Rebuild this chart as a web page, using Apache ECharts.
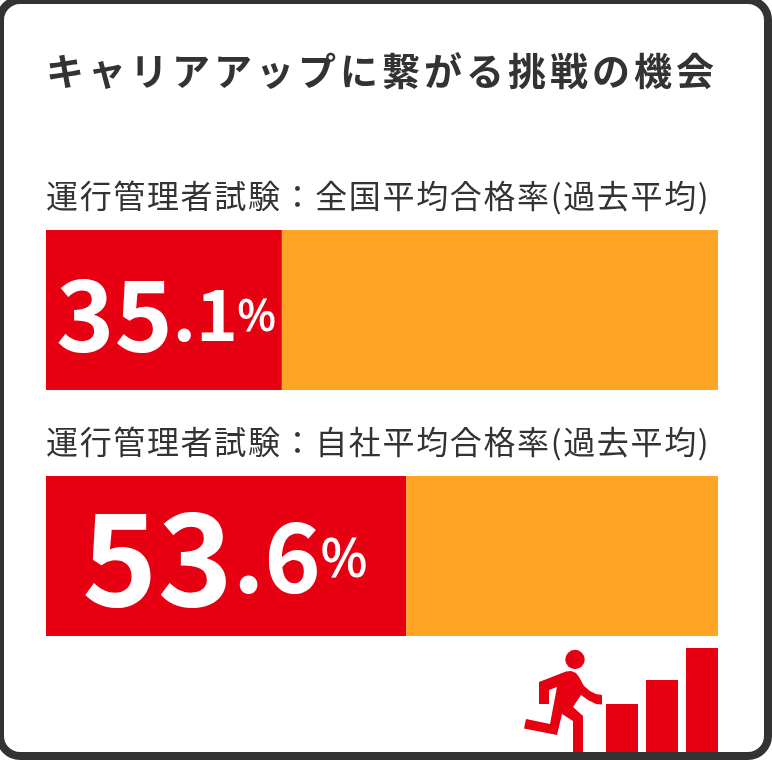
<!DOCTYPE html>
<html><head><meta charset="utf-8">
<style>html,body{margin:0;padding:0;background:#fff}#c{width:772px;height:760px}</style>
<script src="https://cdn.jsdelivr.net/npm/echarts@6/dist/echarts.min.js"></script>
</head><body><div id="c"></div>
<script>
const titleText = 'キャリアアップに繋がる挑戦の機会';
const categories = ['運行管理者試験：全国平均合格率(過去平均)', '運行管理者試験：自社平均合格率(過去平均)'];
const rates = [35.1, 53.6];
const stairCategories = ['1', '2', '3'];
const stairValues = [48, 72, 104];

const RED = '#e60012', ORANGE = '#ffa425', DARK = '#333333';
const FONT = '"Noto Sans CJK JP","Noto Sans",sans-serif';

// letter spacing for whole strings on the canvas
const spacing = {};
spacing[titleText] = '4px';
categories.forEach(c => spacing[c] = '1.65px');
const proto = CanvasRenderingContext2D.prototype;
const origFill = proto.fillText;
proto.fillText = function (t, x, y, m) {
  this.letterSpacing = spacing[t] || '0px';
  const r = m === undefined ? origFill.call(this, t, x, y) : origFill.call(this, t, x, y, m);
  this.letterSpacing = '0px';
  return r;
};

const chart = echarts.init(document.getElementById('c'), null, {renderer: 'canvas'});
const BAR_TOP = 230, BAR_H = 160, GAP = 246;

function rich(big, mid, pct) {
  return {
    a: {fontFamily: FONT, fontWeight: 700, fontSize: big, color: '#fff'},
    b: {fontFamily: FONT, fontWeight: 700, fontSize: mid, color: '#fff'},
    p: {fontFamily: FONT, fontWeight: 400, fontSize: pct, color: '#fff', textBorderColor: '#fff', textBorderWidth: 1.2}
  };
}
function labelFor(v) {
  const [i, d] = v.toFixed(1).split('.');
  return `{a|${i}}{b|.${d}}{p|%}`;
}

const option = {
  animation: false,
  backgroundColor: '#fff',
  grid: [
    {left: 46, width: 672, top: BAR_TOP - (GAP - BAR_H) / 2, height: GAP * 2, containLabel: false},
    {left: 602, width: 120, top: 640, height: 112}
  ],
  xAxis: [
    {gridIndex: 0, type: 'value', min: 0, max: 100, show: false},
    {gridIndex: 1, type: 'category', data: stairCategories, show: false}
  ],
  yAxis: [
    {gridIndex: 0, type: 'category', inverse: true, data: categories, show: false},
    {gridIndex: 1, type: 'value', min: 0, max: 112, show: false}
  ],
  series: [
    {
      type: 'bar', stack: 'r', xAxisIndex: 0, yAxisIndex: 0, barWidth: BAR_H, silent: true,
      itemStyle: {color: RED},
      data: [
        {value: rates[0], label: {show: true, position: 'insideLeft', offset: [5, 4], formatter: labelFor(rates[0]), rich: rich(99, 71, 41)}},
        {value: rates[1], label: {show: true, position: 'insideLeft', offset: [31, 1], formatter: labelFor(rates[1]), rich: rich(128, 96, 50)}}
      ]
    },
    {
      type: 'bar', stack: 'r', xAxisIndex: 0, yAxisIndex: 0, barWidth: BAR_H, silent: true,
      itemStyle: {color: ORANGE},
      data: rates.map(v => +(100 - v).toFixed(1))
    },
    {
      type: 'bar', xAxisIndex: 1, yAxisIndex: 1, barWidth: 32, silent: true,
      itemStyle: {color: RED}, data: stairValues
    }
  ],
  graphic: [
    {type: 'text', z: 10, left: 46, top: 52, style: {text: titleText, fill: DARK, font: '700 38px ' + FONT}},
    {type: 'text', z: 10, left: 46, top: 180, style: {text: categories[0], fill: DARK, font: '400 32px ' + FONT}},
    {type: 'text', z: 10, left: 46, top: 426, style: {text: categories[1], fill: DARK, font: '400 32px ' + FONT}},
    // runner icon
    {type: 'circle', z: 5, shape: {cx: 575, cy: 659.5, r: 9.7}, style: {fill: RED}},
    {type: 'polygon', z: 5, shape: {points: [
      [539,682],[566,671.5],[571,671],[576,673],[579,677],[584,686],[590,691],[596,694],[602,695],[602,704.5],
      [596,704],[588,700],[581,695],[573,707],[583,716],[583,752],[573,752],[573,721],[562,714],[557,735],
      [524,728.5],[526,719],[550,724],[557,687],[549,690],[549,704],[539,704]
    ]}, style: {fill: RED}},
    // frame
    {type: 'rect', z: 20, shape: {x: 0, y: 0, width: 768, height: 756, r: 20}, style: {fill: 'none', stroke: DARK, lineWidth: 8}}
  ]
};
chart.setOption(option);
</script></body></html>
